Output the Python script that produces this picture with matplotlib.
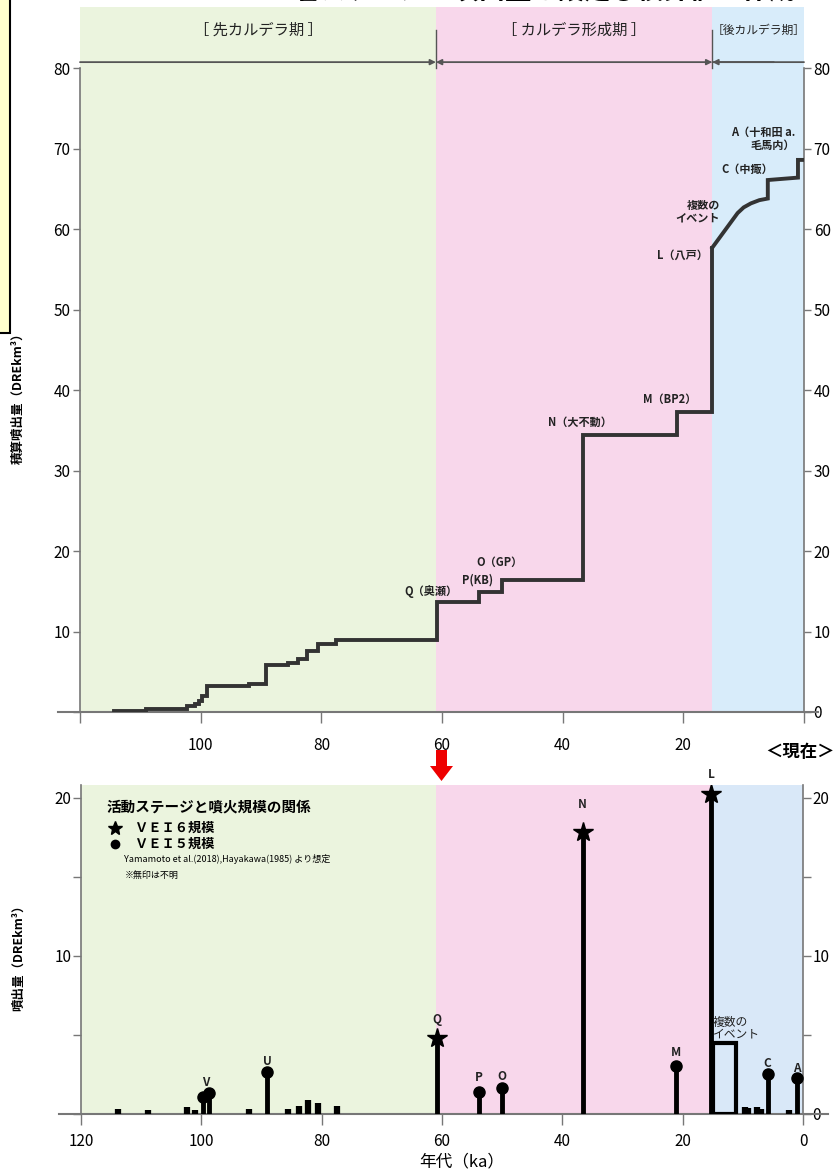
import matplotlib
matplotlib.use('Agg')
import matplotlib.pyplot as plt
from matplotlib.patches import Rectangle, FancyArrow

plt.rcParams['font.family'] = ['Liberation Sans Narrow', 'Noto Sans CJK JP', 'DejaVu Sans']
JP = ['Noto Sans CJK JP', 'DejaVu Sans']

# ---- data ----
# stages (ka)
stage_edges = [120, 61.0, 15.2, 0]
stage_names = ['［ 先カルデラ期 ］', '［ カルデラ形成期 ］', '［後カルデラ期］']
stage_colors = ['#ebf4de', '#f8d7eb', '#d8ecfa']
stage_colors2 = ['#ebf4de', '#f8d7eb', '#d9e8f8']

# cumulative erupted volume (step part)
cum_age = [114.3, 109.0, 102.3, 101.0, 100.3, 99.8, 98.9, 92.0, 89.1, 85.6, 83.8, 82.3,
           80.6, 77.5, 60.9, 53.9, 50.1, 36.6, 21.0, 15.2]
cum_vol = [0.1, 0.4, 0.75, 1.0, 1.4, 2.0, 3.2, 3.45, 5.9, 6.1, 6.6, 7.6,
           8.4, 8.9, 13.7, 14.9, 16.4, 34.4, 37.3, 57.7]
# cumulative, post-caldera part
post_age = [15.2, 11.0, 10.0, 8.8, 7.4, 6.0, 6.0, 1.0, 1.0, 0.2]
post_vol = [57.7, 62.0, 62.7, 63.2, 63.6, 63.8, 66.1, 66.4, 68.6, 68.6]

cum_labels = ['Q（奥瀬）', 'P(KB)', 'O（GP）', 'N（大不動）', 'M（BP2）', 'L（八戸）',
              '複数の\nイベント', 'C（中掫）', 'A（十和田 a.\n毛馬内）']
cum_lab_x = [57.4, 51.5, 46.6, 31.8, 17.9, 16.0, 13.9, 5.1, 1.5]
cum_lab_y = [15.0, 16.4, 18.6, 36.0, 38.8, 56.8, 62.2, 67.4, 71.2]

# eruption volumes
small_age = [113.9, 108.8, 102.3, 101.0, 92.0, 85.6, 83.7, 82.2, 80.6, 77.4,
             9.6, 9.1, 7.7, 7.0, 2.4]
small_vol = [0.3, 0.25, 0.42, 0.25, 0.34, 0.3, 0.5, 0.89, 0.72, 0.5,
             0.46, 0.4, 0.42, 0.3, 0.25]
vei5_age = [99.8, 98.8, 89.1, 53.9, 50.0, 21.1, 5.9, 1.05]
vei5_vol = [1.05, 1.3, 2.64, 1.37, 1.62, 3.04, 2.53, 2.3]
vei6_age = [60.9, 36.6, 15.3]
vei6_vol = [4.83, 17.8, 20.2]
multi_age = (14.9, 11.2)
multi_vol = 4.47

erup_labels = ['V', 'U', 'Q', 'P', 'O', 'N', 'M', 'L', 'C', 'A']
erup_lab_x = [99.25, 89.1, 60.9, 53.9, 50.0, 36.6, 21.1, 15.3, 5.9, 1.05]
erup_lab_y = [1.96, 3.3, 5.95, 2.28, 2.4, 19.55, 3.9, 21.45, 3.2, 2.9]

W, H = 840, 1173
fig = plt.figure(figsize=(W / 100, H / 100), dpi=100)


def fx(px):
    return px / W


def fy(py):
    return 1 - py / H


# cut-off title and yellow box at the top edge (both cropped in the original)
fig.text(fx(545), fy(-8.5), '各ステージの噴出量を設定し積算値の作成', family=JP,
         fontsize=19, ha='center', va='center', fontweight='bold')
fig.add_artist(Rectangle((fx(-5), fy(333)), fx(15), fy(-5) - fy(333), transform=fig.transFigure,
                         facecolor='#ffffcc', edgecolor='black', lw=1.5))

# ================= top: cumulative =================
ax1 = fig.add_axes([fx(80), fy(712), fx(724), fy(7) - fy(712)])
ax1.set_xlim(120, 0)
ax1.set_ylim(0, 87.6)
for i in range(3):
    ax1.axvspan(stage_edges[i], stage_edges[i + 1], color=stage_colors[i], lw=0, zorder=0)

ax1.step(cum_age, cum_vol, where='post', color='#333333', lw=2.8, zorder=3,
         solid_joinstyle='miter')
ax1.plot(post_age, post_vol, color='#333333', lw=2.8, zorder=3, solid_joinstyle='miter')

for t, x, y in zip(cum_labels, cum_lab_x, cum_lab_y):
    ax1.text(x, y, t, family=JP, fontsize=8, fontweight='bold', ha='right', va='center',
             linespacing=0.95, color='#222222')

# stage arrows
yarr = 80.75
arrow_kw = dict(color='#555555', lw=1.3)
ax1.annotate('', xy=(stage_edges[1], yarr), xytext=(120, yarr),
             arrowprops=dict(arrowstyle='-|>', mutation_scale=8, shrinkA=0, shrinkB=0, **arrow_kw))
ax1.annotate('', xy=(stage_edges[2], yarr), xytext=(stage_edges[1], yarr),
             arrowprops=dict(arrowstyle='<|-|>', mutation_scale=8, shrinkA=0, shrinkB=0, **arrow_kw))
ax1.annotate('', xy=(0, yarr), xytext=(stage_edges[2], yarr),
             arrowprops=dict(arrowstyle='-', shrinkA=0, shrinkB=0, **arrow_kw))
ax1.annotate('', xy=(stage_edges[2], yarr), xytext=(5, yarr),
             arrowprops=dict(arrowstyle='-|>', mutation_scale=8, shrinkA=0, shrinkB=0, **arrow_kw))
for e in stage_edges[1:3]:
    ax1.plot([e, e], [80.0, 84.7], color='#555555', lw=1.0)
name_x = [(120 + 61) / 2, (61 + 15.2) / 2, (15.2 + 0) / 2]
name_fs = [11, 11, 8.5]
for n, x, s in zip(stage_names, name_x, name_fs):
    ax1.text(x, 84.7, n, family=JP, fontsize=s, ha='center', va='center', color='#222222')

for s in ['top', 'bottom']:
    ax1.spines[s].set_visible(False)
for s in ['left', 'right']:
    ax1.spines[s].set_bounds(0, 80)
    ax1.spines[s].set_color('#777777')
    ax1.spines[s].set_linewidth(1.2)
ax1.plot([-0.03, 1.02], [0, 0], transform=ax1.transAxes, color='#777777', lw=1.5, clip_on=False)

ax1.set_yticks(range(0, 81, 10))
ax1.set_xticks([120, 100, 80, 60, 40, 20, 0])
ax1.set_xticklabels(['', '100', '80', '60', '40', '20', ''])
ax1.tick_params(axis='y', direction='out', length=5, width=1, color='#777777',
                left=True, right=True, labelleft=True, labelright=True, labelsize=11, pad=2)
ax1.tick_params(axis='x', direction='out', length=8, width=1, color='#777777',
                labelsize=11, pad=10)
ax1.yaxis.get_major_ticks()[0].label1.set_visible(False)

fig.text(fx(18), fy(395), '積算噴出量（DREkm³）', family=JP, fontsize=9, fontweight='bold',
         rotation=90, ha='center', va='center')
fig.text(fx(800), fy(752), '＜現在＞', family=JP, fontsize=12.5, fontweight='bold',
         ha='center', va='center')

# red arrow
fig.add_artist(FancyArrow(fx(441.5), fy(750), 0, fy(781) - fy(750), width=fx(11),
                          head_width=fx(23), head_length=fy(766) - fy(781),
                          length_includes_head=True, transform=fig.transFigure,
                          color='#ee0000', lw=0))

# ================= bottom: eruption volume =================
ax2 = fig.add_axes([fx(81), fy(1114), fx(722), fy(785) - fy(1114)])
ax2.set_xlim(120, 0)
ax2.set_ylim(0, 20.8)
for i in range(3):
    ax2.axvspan(stage_edges[i], stage_edges[i + 1], color=stage_colors2[i], lw=0, zorder=0)

ax2.vlines(small_age, 0, small_vol, color='black', lw=4.5, zorder=3)
ax2.vlines(vei5_age, 0, vei5_vol, color='black', lw=3.5, zorder=3)
ax2.vlines(vei6_age, 0, vei6_vol, color='black', lw=3.5, zorder=3)
ax2.plot(vei5_age, vei5_vol, 'o', color='black', ms=8, zorder=4)
ax2.plot(vei6_age, vei6_vol, '*', color='black', ms=15, zorder=4)
ax2.add_patch(Rectangle((multi_age[0], 0), multi_age[1] - multi_age[0], multi_vol,
                        fill=False, edgecolor='black', lw=3, zorder=3))
ax2.text(multi_age[0] + 0.1, multi_vol + 0.2, '複数の\nイベント', family=JP, fontsize=8.5,
         ha='left', va='bottom', linespacing=0.8, color='#222222')

for t, x, y in zip(erup_labels, erup_lab_x, erup_lab_y):
    ax2.text(x, y, t, fontsize=8.5, fontweight='bold', ha='center', va='center', color='#222222')

# legend block
ax2.text(0.035, 0.935, '活動ステージと噴火規模の関係', transform=ax2.transAxes, family=JP,
         fontsize=10.5, fontweight='bold', ha='left', va='center')
ax2.plot([0.047], [0.870], '*', color='black', ms=10, transform=ax2.transAxes)
ax2.text(0.075, 0.870, 'ＶＥＩ６規模', transform=ax2.transAxes, family=JP,
         fontsize=9.5, fontweight='bold', ha='left', va='center')
ax2.plot([0.047], [0.822], 'o', color='black', ms=6, transform=ax2.transAxes)
ax2.text(0.075, 0.822, 'ＶＥＩ５規模', transform=ax2.transAxes, family=JP,
         fontsize=9.5, fontweight='bold', ha='left', va='center')
ax2.text(0.060, 0.774, 'Yamamoto et al.(2018),Hayakawa(1985) より想定', transform=ax2.transAxes,
         family=JP, fontsize=6.5, ha='left', va='center')
ax2.text(0.060, 0.726, '※無印は不明', transform=ax2.transAxes, family=JP,
         fontsize=6.5, ha='left', va='center')

for s in ['top', 'bottom']:
    ax2.spines[s].set_visible(False)
for s in ['left', 'right']:
    ax2.spines[s].set_color('#777777')
    ax2.spines[s].set_linewidth(1.2)
ax2.plot([-0.03, 1.035], [0, 0], transform=ax2.transAxes, color='#777777', lw=1.5, clip_on=False)

ax2.set_yticks([0, 10, 20])
ax2.set_yticks([5, 15], minor=True)
ax2.set_xticks([120, 100, 80, 60, 40, 20, 0])
ax2.tick_params(axis='y', which='both', direction='out', length=6, width=1, color='#777777',
                left=True, right=True, labelleft=True, labelright=True, labelsize=11, pad=1)
ax2.tick_params(axis='x', direction='out', length=8, width=1, color='#777777',
                labelsize=11, pad=6)
ax2.yaxis.get_major_ticks()[0].label1.set_visible(False)

fig.text(fx(18), fy(955), '噴出量（DREkm³）', family=JP, fontsize=9, fontweight='bold',
         rotation=90, ha='center', va='center')
fig.text(fx(462), fy(1162), '年代（ka）', family=JP, fontsize=12, ha='center', va='center')

fig.savefig('out.png', dpi=100)
